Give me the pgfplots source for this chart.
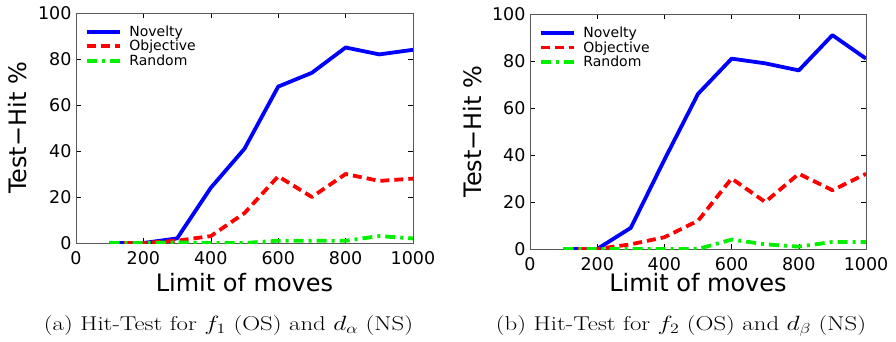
\documentclass[border=0pt]{standalone}
\usepackage{fontspec}
\usepackage{pgfplots}
\pgfplotsset{compat=1.18}
\newfontfamily\plotfont{DejaVu Sans}
\pgfplotsset{
  myaxis/.style={
    scale only axis,
    xmin=0, xmax=1000, ymin=0, ymax=100,
    xtick={0,200,...,1000}, ytick={0,20,...,100},
    tick align=inside,
    major tick length=5bp,
    axis line style={black!65, line width=0.8bp},
    tick style={black, line width=0.6bp},
    /pgf/number format/assume math mode=true,
    /pgf/number format/1000 sep={},
    tick label style={font=\fontsize{17.5bp}{18bp}\plotfont},
    xticklabel style={yshift=-5bp},
    yticklabel style={xshift=-1bp},
    label style={font=\fontsize{24bp}{26bp}\plotfont},
    ylabel={Test\textminus Hit \%},
    xlabel={Limit of moves},
    legend style={draw=none, fill=none, font=\fontsize{14bp}{15bp}\plotfont,
      at={(axis description cs:0.025,0.955)}, anchor=north west,
      row sep=-1.5bp, column sep=6bp, inner sep=0bp, cells={anchor=west}},
    legend image code/.code={\draw[#1] (0bp,0bp) -- (33bp,0bp);},
    every axis plot/.append style={line width=3.8bp, line join=round},
  },
  nov/.style={color={rgb,255:red,0;green,0;blue,255}, solid},
  obj/.style={color={rgb,255:red,255;green,0;blue,0}, dash pattern=on 9bp off 5bp},
  ran/.style={color={rgb,255:red,0;green,240;blue,0}, dash pattern=on 10bp off 5bp on 3bp off 5bp},
}
\newcommand\capt[1]{\scalebox{1.24}[1]{\fontsize{20bp}{22bp}\selectfont #1}}
\begin{document}
\begin{tikzpicture}[x=1bp,y=1bp]
\useasboundingbox (0,0) rectangle (896,341);
\begin{axis}[myaxis, at={(76bp,98bp)}, anchor=south west, width=337bp, height=230bp,
  xlabel style={at={(axis description cs:0.5,0)}, anchor=center, yshift=-40bp},
  ylabel style={at={([xshift=-58bp]axis description cs:0,0.5)}, anchor=center}]
\addplot[nov] coordinates {(100,0)(200,0)(300,2)(400,24)(500,41)(600,68)(700,74)(800,85)(900,82)(1000,84)};
\addlegendentry{Novelty}
\addplot[obj] coordinates {(100,0)(200,0)(300,1)(400,3)(500,13)(600,29)(700,20)(800,30)(900,27)(1000,28)};
\addlegendentry{Objective}
\addplot[ran] coordinates {(100,0)(200,0)(300,0.3)(400,0)(500,0)(600,1)(700,1)(800,1)(900,3)(1000,2)};
\addlegendentry{Random}
\end{axis}
\begin{axis}[myaxis, at={(530bp,92bp)}, anchor=south west, width=336bp, height=235bp,
  xlabel style={at={(axis description cs:0.5,0)}, anchor=center, yshift=-34bp},
  ylabel style={at={([xshift=-57.5bp]axis description cs:0,0.5)}, anchor=center}]
\addplot[nov] coordinates {(100,0)(200,0)(300,9)(400,38)(500,66)(600,81)(700,79)(800,76)(900,91)(1000,81)};
\addlegendentry{Novelty}
\addplot[obj] coordinates {(100,0)(200,0)(300,2)(400,5)(500,12)(600,30)(700,20)(800,32)(900,25)(1000,32)};
\addlegendentry{Objective}
\addplot[ran] coordinates {(100,0)(200,0)(300,0)(400,0)(500,0)(600,4)(700,2)(800,1)(900,3)(1000,3)};
\addlegendentry{Random}
\end{axis}
\node[anchor=base, inner sep=0] at (228.5,11) {\capt{(a) Hit-Test for $f_1$ (OS) and $d_\alpha$ (NS)}};
\node[anchor=base, inner sep=0] at (681,11) {\capt{(b) Hit-Test for $f_2$ (OS) and $d_\beta$ (NS)}};
\end{tikzpicture}
\end{document}
